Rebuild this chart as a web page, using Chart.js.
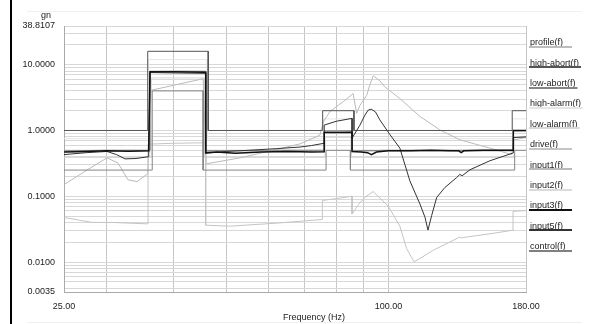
<!DOCTYPE html>
<html><head><meta charset="utf-8">
<script src="https://cdn.jsdelivr.net/npm/chart.js@4.4.1/dist/chart.umd.min.js"></script>
<style>
html,body{margin:0;padding:0;background:#fff;}
#wrap{position:relative;width:595px;height:324px;overflow:hidden;background:#fff;}
#c{position:absolute;left:0;top:0;}
.bar{position:absolute;left:10px;top:0;width:2px;height:324px;background:#000;}
.hl{position:absolute;left:27px;width:555px;height:1px;background:#f0f0f0;}
</style></head><body>
<div id="wrap">
<canvas id="c" width="595" height="324"></canvas>
<div class="bar"></div>
<div class="hl" style="top:11px"></div>
<div class="hl" style="top:322px"></div>
</div>
<script>
// ---------- axis ticks ----------
const xGridValues = [25, 30, 40, 50, 60, 70, 80, 90, 100, 180];
const xTickValues = [25, 100, 180];
const xTickLabels = ['25.00', '100.00', '180.00'];
const yGridValues = [0.0035, 0.004, 0.005, 0.006, 0.007, 0.008, 0.009,
  0.01, 0.02, 0.03, 0.04, 0.05, 0.06, 0.07, 0.08, 0.09,
  0.1, 0.2, 0.3, 0.4, 0.5, 0.6, 0.7, 0.8, 0.9,
  1, 2, 3, 4, 5, 6, 7, 8, 9, 10, 20, 30, 38.8107];
const yTickValues = [0.0035, 0.01, 0.1, 1, 10, 38.8107];
const yTickLabels = ['0.0035', '0.0100', '0.1000', '1.0000', '10.0000', '38.8107'];

// ---------- series (frequency in Hz, level in gn) ----------
const profileFreq = [25, 36.1, 36.1, 45.8, 45.8, 76.0, 76.0, 85.6, 85.6, 170.5, 170.5, 180];
const profileVal  = [0.5, 0.5, 8, 8, 0.5, 0.5, 1, 1, 0.5, 0.5, 1, 1];

const highAbortFreq = [25, 35.75, 35.75, 46.3, 46.3, 75.5, 75.5, 86.3, 86.3, 169.7, 169.7, 180];
const highAbortVal  = [1, 1, 16, 16, 1, 1, 2, 2, 1, 1, 2, 2];

const lowAbortFreq = [25, 36.45, 36.45, 45.3, 45.3, 76.6, 76.6, 85.0, 85.0, 171.5, 171.5, 180];
const lowAbortVal  = [0.25, 0.25, 4, 4, 0.25, 0.25, 0.5, 0.5, 0.25, 0.25, 0.5, 0.5];

const highAlarmFreq = [25, 35.9, 35.9, 46.1, 46.1, 75.8, 75.8, 86.0, 86.0, 170.0, 170.0, 180];
const highAlarmVal  = [0.75, 0.75, 12, 12, 0.75, 0.75, 1.5, 1.5, 0.75, 0.75, 1.5, 1.5];

const lowAlarmFreq = [25, 36.3, 36.3, 45.5, 45.5, 76.3, 76.3, 85.3, 85.3, 171.0, 171.0, 180];
const lowAlarmVal  = [0.39, 0.39, 6.3, 6.3, 0.39, 0.39, 0.79, 0.79, 0.39, 0.39, 0.79, 0.79];

const driveFreq = [25, 28.2, 30.6, 35.8, 35.8, 40, 45.8, 45.8, 50.8, 62, 75.4, 75.4, 80, 85.6, 85.6, 88, 90.4, 93.7,
  100, 105, 108.1, 111.5, 114.4, 121.1, 135.7, 136.5, 139.7, 155, 170.3, 170.3, 180];
const driveVal  = [0.0475, 0.040, 0.040, 0.038, 0.62, 0.64, 0.65, 0.0363, 0.0351, 0.039, 0.0443, 0.0862, 0.092, 0.100, 0.0538, 0.075, 0.096, 0.118,
  0.07, 0.035, 0.016, 0.0101, 0.0113, 0.0151, 0.024, 0.0232, 0.024, 0.027, 0.0305, 0.059, 0.0605];

const input1Freq = [25, 27.46, 30.04, 31.49, 32.86, 34.15, 35.75, 36.2, 40.5, 45.3, 45.9, 53.0, 60.3, 68.5, 74.6,
  75.7, 77.9, 82.5, 86.0, 87.3, 88.5, 91.1, 92.4, 93.7, 96.4, 98.5, 105, 114.4, 124.6, 135.7, 154.2, 169.3, 170.8, 180];
const input1Val  = [0.150, 0.245, 0.383, 0.32, 0.178, 0.167, 0.22, 4.07, 5.0, 6.12, 0.311, 0.383, 0.489, 0.625, 0.85,
  1.35, 1.95, 2.76, 3.64, 1.82, 2.4, 3.4, 5.0, 6.79, 5.7, 4.6, 3.06, 1.64, 1.02, 0.722, 0.54, 0.43, 0.72, 0.78];

const input2Freq = [25, 30, 36.1, 36.1, 45.8, 45.8, 60, 76, 76, 85.6, 85.6, 120, 170.5, 170.5, 180];
const input2Val  = [0.47, 0.48, 0.48, 7.7, 7.7, 0.47, 0.48, 0.48, 0.95, 0.95, 0.48, 0.48, 0.48, 0.96, 0.96];

const input3Freq = [25, 27.5, 30, 33, 35.9, 36.1, 40, 45.8, 45.8, 48, 52, 58, 65, 72, 76.0, 76.0, 81, 85.6, 85.6,
  89, 91.5, 93, 95, 100, 110, 120, 130, 135, 136.5, 138, 150, 170.5, 170.5, 180];
const input3Val  = [0.47, 0.48, 0.49, 0.485, 0.49, 7.8, 7.8, 7.7, 0.46, 0.47, 0.45, 0.47, 0.48, 0.47, 0.475, 0.93, 0.93, 0.94, 0.48,
  0.47, 0.46, 0.43, 0.47, 0.49, 0.49, 0.5, 0.49, 0.49, 0.46, 0.49, 0.5, 0.5, 1.0, 1.0];

const input5Freq = [25, 27.5, 30.04, 31.3, 32.44, 34.0, 35.9, 36.1, 40, 45.8, 45.8, 50, 55, 62, 68.5, 72, 76.0, 76.0, 80, 85.6, 85.6,
  88.5, 90.4, 91.7, 92.9, 94.6, 96.4, 100.7, 105, 109.6, 114.4, 116.9, 118.4, 120.3, 122.9, 127.3, 133.8, 135.7, 137, 141.7, 154.2, 170.5, 170.5, 180];
const input5Val  = [0.43, 0.46, 0.48, 0.43, 0.37, 0.375, 0.40, 7.6, 7.5, 7.4, 0.45, 0.48, 0.50, 0.53, 0.56, 0.59, 0.64, 1.21, 1.38, 1.53, 0.766,
  1.2, 1.70, 2.04, 2.11, 1.92, 1.45, 0.86, 0.54, 0.171, 0.0762, 0.048, 0.0306, 0.0512, 0.096, 0.136, 0.192, 0.215, 0.205, 0.253, 0.346, 0.456, 0.78, 0.80];

const controlFreq = [25, 30, 36.1, 36.1, 41, 45.8, 45.8, 60, 76, 76, 85.6, 85.6, 100, 130, 170.5, 170.5, 180];
const controlVal  = [0.49, 0.5, 0.5, 7.9, 7.95, 7.9, 0.49, 0.5, 0.5, 0.98, 0.99, 0.49, 0.5, 0.5, 0.5, 0.99, 1.0];

function pts(f, v) { return f.map((x, i) => ({ x: x, y: v[i] })); }

const FONT = "'Liberation Sans', Arial, sans-serif";

const datasets = [
  { label: 'profile(f)',    data: pts(profileFreq, profileVal),       borderColor: '#bdbdbd', borderWidth: 1, order: 6 },
  { label: 'high-abort(f)', data: pts(highAbortFreq, highAbortVal),   borderColor: '#555555', borderWidth: 1, order: 2 },
  { label: 'low-abort(f)',  data: pts(lowAbortFreq, lowAbortVal),     borderColor: '#858585', borderWidth: 1, order: 3 },
  { label: 'high-alarm(f)', data: pts(highAlarmFreq, highAlarmVal),   borderColor: '#e6e6e6', borderWidth: 1, order: 10 },
  { label: 'low-alarm(f)',  data: pts(lowAlarmFreq, lowAlarmVal),     borderColor: '#d6d6d6', borderWidth: 1, order: 9 },
  { label: 'drive(f)',      data: pts(driveFreq, driveVal),           borderColor: '#c4c4c4', borderWidth: 1, order: 7 },
  { label: 'input1(f)',     data: pts(input1Freq, input1Val),         borderColor: '#bababa', borderWidth: 1, order: 8 },
  { label: 'input2(f)',     data: pts(input2Freq, input2Val),         borderColor: '#dadada', borderWidth: 1, order: 11 },
  { label: 'input3(f)',     data: pts(input3Freq, input3Val),         borderColor: '#111111', borderWidth: 1.5, order: 0 },
  { label: 'input5(f)',     data: pts(input5Freq, input5Val),         borderColor: '#333333', borderWidth: 1, order: 1 },
  { label: 'control(f)',    data: pts(controlFreq, controlVal),       borderColor: '#808080', borderWidth: 1, order: 5 }
].map(d => Object.assign(d, { pointRadius: 0, tension: 0, fill: false }));

const legendTop = 42.7, legendStep = 20.4;

const sidePlugin = {
  id: 'sideLegend',
  afterDraw(chart) {
    const ctx = chart.ctx;
    ctx.save();
    ctx.font = '9px ' + FONT;
    ctx.textBaseline = 'middle';
    ctx.textAlign = 'left';
    chart.data.datasets.forEach((ds, i) => {
      const y = legendTop + i * legendStep;
      ctx.fillStyle = '#222';
      ctx.fillText(ds.label, 530, y);
      const w = Math.max(ctx.measureText(ds.label).width + 3, 43);
      const uy = Math.round(y + 4);
      ctx.strokeStyle = ds.borderColor;
      ctx.lineWidth = 2;
      ctx.beginPath();
      ctx.moveTo(529, uy);
      ctx.lineTo(529 + w, uy);
      ctx.stroke();
    });
    ctx.fillStyle = '#222';
    ctx.textAlign = 'center';
    ctx.textBaseline = 'alphabetic';
    ctx.fillText('gn', 46, 17.5);
    ctx.textBaseline = 'middle';
    ctx.fillText('Frequency (Hz)', 314, 318);
    ctx.restore();
  }
};

new Chart(document.getElementById('c'), {
  type: 'line',
  data: { datasets: datasets },
  options: {
    responsive: false,
    animation: false,
    events: [],
    layout: { padding: { left: 0, right: 69, top: 26, bottom: 0 } },
    plugins: { legend: { display: false }, tooltip: { enabled: false } },
    scales: {
      x: {
        type: 'logarithmic', min: 25, max: 180,
        afterBuildTicks: s => { s.ticks = xGridValues.map(v => ({ value: v })); },
        afterFit: s => { s.height = 32; },
        ticks: {
          autoSkip: false, maxRotation: 0, minRotation: 0, padding: 9, color: '#222',
          font: { family: FONT, size: 9 },
          callback: v => { const i = xTickValues.indexOf(v); return i >= 0 ? xTickLabels[i] : ''; }
        },
        grid: { color: '#c6c6c6', lineWidth: 1, drawTicks: false },
        border: { display: true, color: '#aaaaaa' }
      },
      y: {
        type: 'logarithmic', min: 0.0035, max: 38.8107,
        afterBuildTicks: s => { s.ticks = yGridValues.map(v => ({ value: v })); },
        afterFit: s => { s.width = 64; },
        ticks: {
          autoSkip: false, padding: 9, color: '#222',
          font: { family: FONT, size: 9 },
          callback: v => { const i = yTickValues.indexOf(v); return i >= 0 ? yTickLabels[i] : ''; }
        },
        grid: { color: '#d8d8d8', lineWidth: 1, drawTicks: false },
        border: { display: true, color: '#aaaaaa' }
      }
    }
  },
  plugins: [sidePlugin]
});
</script>
</body></html>
